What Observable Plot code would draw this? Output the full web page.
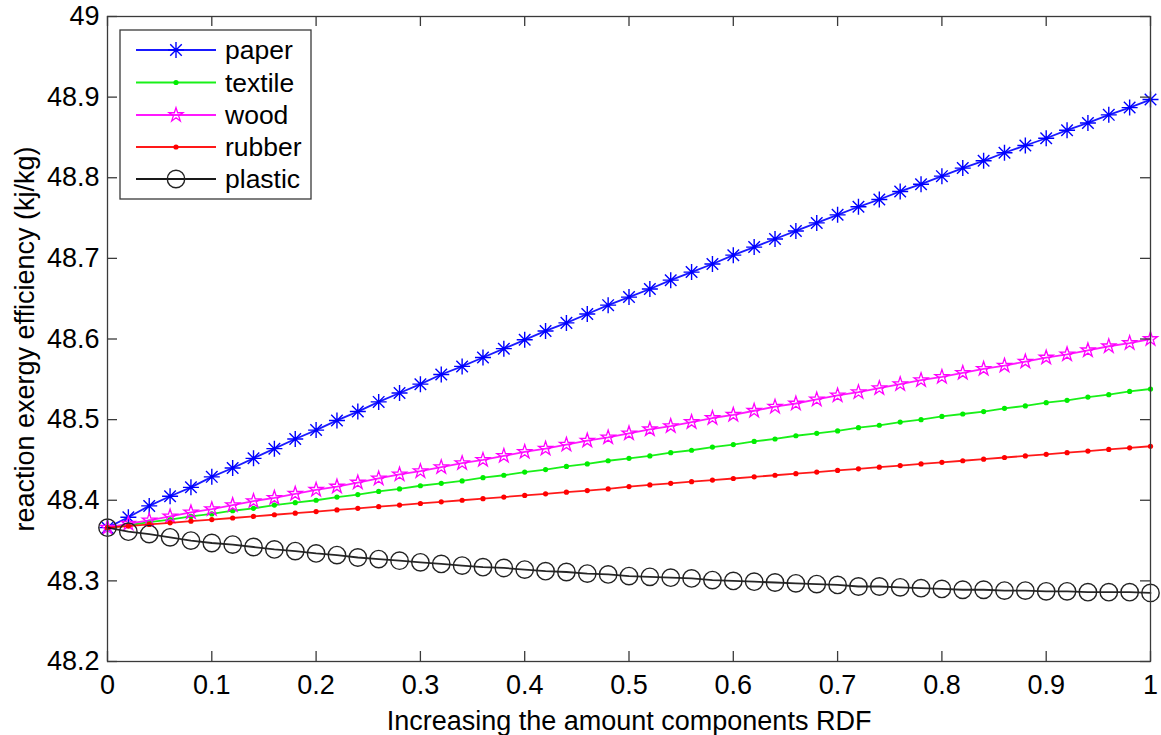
<!DOCTYPE html>
<html><head><meta charset="utf-8">
<script src="https://cdn.jsdelivr.net/npm/d3@7"></script>
<script src="https://cdn.jsdelivr.net/npm/@observablehq/plot@0.6"></script>
<style>
html,body{margin:0;padding:0;background:#fff;}
#chart{position:relative;width:1161px;height:735px;font-family:"Liberation Sans",Arial,sans-serif;}
#chart svg{display:block;}
#legend{position:absolute;left:0;top:0;pointer-events:none;}
</style></head><body><div id="chart"></div>
<script>
// x positions (fraction of component added)
const xs = [0,0.02,0.04,0.06,0.08,0.1,0.12,0.14,0.16,0.18,0.2,0.22,0.24,0.26,0.28,0.3,0.32,0.34,0.36,0.38,0.4,0.42,0.44,0.46,0.48,0.5,0.52,0.54,0.56,0.58,0.6,0.62,0.64,0.66,0.68,0.7,0.72,0.74,0.76,0.78,0.8,0.82,0.84,0.86,0.88,0.9,0.92,0.94,0.96,0.98,1];

const paper = [48.366,48.379,48.393,48.405,48.416,48.429,48.440,48.452,48.464,48.476,48.487,48.499,48.510,48.522,48.533,48.544,48.556,48.566,48.577,48.588,48.599,48.610,48.620,48.631,48.642,48.652,48.662,48.673,48.683,48.693,48.704,48.714,48.724,48.734,48.744,48.754,48.764,48.773,48.783,48.792,48.802,48.812,48.821,48.831,48.840,48.849,48.859,48.868,48.878,48.887,48.897];

const textile = [48.366,48.369,48.373,48.376,48.380,48.383,48.387,48.390,48.394,48.397,48.400,48.404,48.407,48.411,48.414,48.418,48.421,48.424,48.428,48.431,48.435,48.438,48.442,48.445,48.449,48.452,48.455,48.459,48.462,48.466,48.469,48.473,48.476,48.480,48.483,48.486,48.490,48.493,48.497,48.500,48.504,48.507,48.510,48.514,48.517,48.521,48.524,48.528,48.531,48.535,48.538];

const wood = [48.366,48.371,48.375,48.380,48.385,48.389,48.394,48.399,48.403,48.408,48.413,48.417,48.422,48.427,48.432,48.436,48.441,48.446,48.450,48.455,48.460,48.464,48.469,48.474,48.478,48.483,48.488,48.492,48.497,48.502,48.506,48.511,48.516,48.520,48.525,48.530,48.534,48.539,48.544,48.549,48.553,48.558,48.563,48.567,48.572,48.577,48.581,48.586,48.591,48.595,48.600];

const rubber = [48.366,48.368,48.370,48.372,48.374,48.376,48.378,48.380,48.382,48.384,48.386,48.388,48.390,48.392,48.394,48.396,48.398,48.400,48.402,48.404,48.406,48.408,48.410,48.412,48.414,48.417,48.419,48.421,48.423,48.425,48.427,48.429,48.431,48.433,48.435,48.437,48.439,48.441,48.443,48.445,48.447,48.449,48.451,48.453,48.455,48.457,48.459,48.461,48.463,48.465,48.467];

const plastic = [48.366,48.361,48.358,48.354,48.350,48.347,48.345,48.342,48.339,48.337,48.334,48.332,48.329,48.327,48.325,48.323,48.321,48.319,48.317,48.316,48.314,48.312,48.311,48.309,48.308,48.306,48.305,48.304,48.303,48.301,48.300,48.299,48.298,48.297,48.296,48.295,48.293,48.293,48.292,48.291,48.290,48.289,48.289,48.288,48.288,48.287,48.287,48.286,48.286,48.286,48.285];

const seriesNames = ["paper","textile","wood","rubber","plastic"];
const seriesColors = ["#0000ff","#00ee00","#ff00ff","#ff0000","#000000"];
const xTicks = [0,0.1,0.2,0.3,0.4,0.5,0.6,0.7,0.8,0.9,1];
const yTicks = [48.2,48.3,48.4,48.5,48.6,48.7,48.8,48.9,49];
const xLabel = "Increasing the amount components RDF";
const yLabel = "reaction exergy efficiency (kj/kg)";

// layout
const W = 1161, H = 735;
const mL = 107, mR = 11, mT = 16, mB = 74;
const innerW = W - mL - mR, innerH = H - mT - mB;
const tickLen = 10;
const axisColor = "#3a3a3a";

// custom MATLAB-like asterisk (plus + cross)
const asterisk = {
  draw(ctx, size) {
    const r = Math.sqrt(size / Math.PI);
    const d = r * 0.72;
    ctx.moveTo(-r, 0); ctx.lineTo(r, 0);
    ctx.moveTo(0, -r); ctx.lineTo(0, r);
    ctx.moveTo(-d, -d); ctx.lineTo(d, d);
    ctx.moveTo(-d, d); ctx.lineTo(d, -d);
  }
};

const values = [paper, textile, wood, rubber, plastic];
const rows = values.map(v => xs.map((x, i) => ({x, y: v[i]})));

const markerSpec = [
  {symbol: asterisk, r: 8, fill: "none", stroke: seriesColors[0], strokeWidth: 1.4},
  {symbol: "circle", r: 2.6, fill: seriesColors[1], stroke: "none"},
  {symbol: "star", r: 4.4, fill: "none", stroke: seriesColors[2], strokeWidth: 1.3},
  {symbol: "circle", r: 2.6, fill: seriesColors[3], stroke: "none"},
  {symbol: "circle", r: 8.7, fill: "none", stroke: "#222", strokeWidth: 1.4}
];

const marks = [];
rows.forEach((data, i) => {
  marks.push(Plot.line(data, {x: "x", y: "y", stroke: seriesColors[i], strokeWidth: 1.8, strokeOpacity: i === 4 ? 0.85 : 0.9}));
  marks.push(Plot.dot(data, {x: "x", y: "y", ...markerSpec[i]}));
});

const chart = Plot.plot({
  width: W, height: H,
  marginLeft: mL, marginRight: mR, marginTop: mT, marginBottom: mB,
  style: {fontFamily: '"Liberation Sans", Arial, sans-serif', fontSize: "27px", color: "#000", background: "#fff"},
  x: {domain: [0, 1]},
  y: {domain: [48.2, 49]},
  marks: [
    ...marks,
    Plot.frame({stroke: axisColor, strokeWidth: 1.3}),
    Plot.tickY(yTicks, {y: d => d, insetRight: innerW - tickLen, stroke: axisColor, strokeWidth: 1.3}),
    Plot.tickY(yTicks, {y: d => d, insetLeft: innerW - tickLen, stroke: axisColor, strokeWidth: 1.3}),
    Plot.tickX(xTicks, {x: d => d, insetTop: innerH - tickLen, stroke: axisColor, strokeWidth: 1.3}),
    Plot.tickX(xTicks, {x: d => d, insetBottom: innerH - tickLen, stroke: axisColor, strokeWidth: 1.3}),
    Plot.axisY(yTicks, {tickSize: 0, tickPadding: 8, tickFormat: d => String(d), label: yLabel, labelAnchor: "center", labelOffset: 93, labelArrow: "none"}),
    Plot.axisX(xTicks, {tickSize: 0, tickPadding: 13, tickFormat: d => String(d), label: xLabel, labelAnchor: "center", labelOffset: 68, labelArrow: "none"})
  ]
});
document.getElementById("chart").appendChild(chart);

// legend box (inside plot, upper-left, MATLAB style)
const lg = d3.select("#chart").append("svg").attr("id", "legend").attr("width", W).attr("height", H);
const box = {x: 120, y: 30, w: 191, h: 169};
lg.append("rect").attr("x", box.x).attr("y", box.y).attr("width", box.w).attr("height", box.h)
  .attr("fill", "#fff").attr("stroke", axisColor).attr("stroke-width", 1.3);
const rowY = [50, 82.5, 115, 147, 179];
seriesNames.forEach((name, i) => {
  const g = lg.append("g").attr("transform", `translate(0,${rowY[i]})`);
  g.append("line").attr("x1", 136).attr("x2", 216).attr("y1", 0).attr("y2", 0)
    .attr("stroke", seriesColors[i]).attr("stroke-width", 1.8).attr("stroke-opacity", 0.9);
  const m = markerSpec[i];
  const type = m.symbol === "circle" ? d3.symbolCircle : m.symbol === "star" ? d3.symbolStar : m.symbol;
  g.append("path").attr("transform", "translate(176,0)")
    .attr("d", d3.symbol(type, m.r * m.r * Math.PI)())
    .attr("fill", m.fill).attr("stroke", m.stroke).attr("stroke-width", m.strokeWidth || 0);
  g.append("text").attr("x", 225).attr("y", 0).attr("dy", "0.35em")
    .attr("font-size", 26.5).attr("font-family", '"Liberation Sans", Arial, sans-serif').attr("fill", "#000")
    .text(name);
});
</script></body></html>
